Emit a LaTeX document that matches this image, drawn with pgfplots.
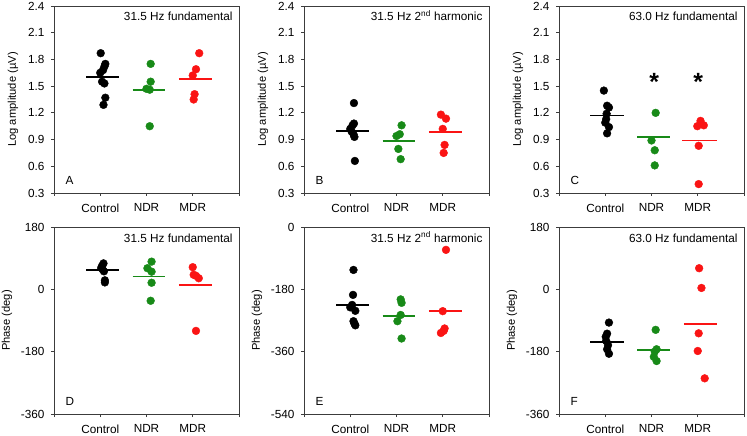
\documentclass[border=0pt]{standalone}
\usepackage{pgfplots}
\pgfplotsset{compat=1.18}
\usepackage{fontspec}
\setmainfont{Liberation Sans}

\definecolor{grpgreen}{RGB}{24,138,24}
\definecolor{grpred}{RGB}{250,20,20}
\definecolor{framegray}{RGB}{60,60,60}

\pgfplotsset{
  panel/.style={
    scale only axis, width=185bp, height=187bp,
    xmin=0, xmax=4, xtick={0,1,2,3,4}, xticklabels={,Control,NDR,MDR,},
    tick align=outside, tick pos=left, major tick length=3bp,
    axis line style={framegray, line width=0.9bp},
    every tick/.style={framegray, line width=0.9bp},
    font=\fontsize{11.8}{14}\selectfont,
    /pgf/number format/assume math mode=true,
    xticklabel style={yshift=-4bp},
    yticklabel style={xshift=-3bp},
    clip=false,
  },
  amp/.style={ymin=0.3, ymax=2.4, ytick={0.3,0.6,...,2.41},
    yticklabel style={/pgf/number format/.cd, fixed, fixed zerofill, precision=1},
    ylabel={Log amplitude (µV)},
    ylabel style={at={([xshift=-41bp]axis description cs:0,0.5)}, anchor=center,
      font=\fontsize{11.2}{13}\selectfont}},
  phase/.style={ylabel={Phase (deg)},
    ylabel style={at={([xshift=-47bp]axis description cs:0,0.5)}, anchor=center,
      font=\fontsize{11.2}{13}\selectfont}},
  ctl/.style={only marks, mark=*, mark size=3.9bp, black, mark options={draw=black, fill=black}},
  ndr/.style={only marks, mark=*, mark size=3.9bp, grpgreen, mark options={draw=grpgreen, fill=grpgreen}},
  mdr/.style={only marks, mark=*, mark size=3.9bp, grpred, mark options={draw=grpred, fill=grpred}},
  mean/.style={no markers, line width=1.8bp},
  star/.style={draw=none, no markers, nodes near coords={\bfseries *},
    nodes near coords style={anchor=center, font=\fontsize{25}{25}\selectfont, black}},
}
\newcommand{\paneltitle}[1]{\node[anchor=base east, font=\fontsize{11.8}{14}\selectfont] at ([xshift=-3bp, yshift=-15bp]rel axis cs:1,1) {#1};}
\newcommand{\panelletter}[1]{\node[anchor=base west, font=\fontsize{11.8}{14}\selectfont] at ([xshift=8bp, yshift=8bp]rel axis cs:0,0) {#1};}

\begin{document}
\begin{tikzpicture}[font=\fontsize{11.8}{14}\selectfont]
\useasboundingbox (0,0) rectangle (747bp,436bp);

% A: 31.5 Hz fundamental, amplitude
\begin{axis}[panel, amp, at={(54bp,243bp)}, anchor=south west]
  \addplot[ctl] coordinates {(1.01,1.87) (1.11,1.75) (1.09,1.72) (1.06,1.68) (1.00,1.65) (1.04,1.55) (1.09,1.53) (1.11,1.37) (1.07,1.29)};
  \addplot[ndr] coordinates {(2.09,1.75) (2.09,1.55) (2.00,1.47) (2.07,1.46) (2.07,1.05)};
  \addplot[mdr] coordinates {(3.14,1.87) (3.07,1.69) (3.00,1.62) (3.04,1.41) (3.02,1.35)};
  \addplot[mean, black] coordinates {(0.70,1.60) (1.41,1.60)};
  \addplot[mean, grpgreen] coordinates {(1.70,1.46) (2.41,1.46)};
  \addplot[mean, grpred] coordinates {(2.70,1.58) (3.41,1.58)};
  \paneltitle{31.5 Hz fundamental}
  \panelletter{A}
\end{axis}

% B: 31.5 Hz 2nd harmonic, amplitude
\begin{axis}[panel, amp, at={(304bp,243bp)}, anchor=south west]
  \addplot[ctl] coordinates {(1.08,1.31) (1.08,1.08) (1.05,1.06) (1.00,1.02) (1.03,0.99) (1.07,0.96) (1.09,0.93) (1.10,0.66)};
  \addplot[ndr] coordinates {(2.11,1.06) (2.07,0.96) (2.00,0.94) (2.04,0.795) (2.09,0.68)};
  \addplot[mdr] coordinates {(2.96,1.18) (3.07,1.135) (3.00,1.02) (3.04,0.84) (3.02,0.75)};
  \addplot[mean, black] coordinates {(0.70,1.00) (1.41,1.00)};
  \addplot[mean, grpgreen] coordinates {(1.70,0.88) (2.41,0.88)};
  \addplot[mean, grpred] coordinates {(2.70,0.985) (3.41,0.985)};
  \paneltitle{31.5 Hz 2\textsuperscript{nd} harmonic}
  \panelletter{B}
\end{axis}

% C: 63.0 Hz fundamental, amplitude
\begin{axis}[panel, amp, at={(559bp,243bp)}, anchor=south west]
  \addplot[ctl] coordinates {(0.97,1.45) (1.04,1.28) (1.08,1.26) (1.03,1.19) (1.02,1.13) (1.00,1.09) (1.08,1.04) (1.04,0.97)};
  \addplot[ndr] coordinates {(2.09,1.20) (2.00,0.89) (2.07,0.78) (2.07,0.61)};
  \addplot[mdr] coordinates {(3.06,1.11) (3.13,1.06) (2.99,1.05) (3.02,0.83) (3.02,0.40)};
  \addplot[mean, black] coordinates {(0.68,1.17) (1.40,1.17)};
  \addplot[mean, grpgreen] coordinates {(1.69,0.93) (2.40,0.93)};
  \addplot[mean, grpred] coordinates {(2.66,0.89) (3.42,0.89)};
  \addplot[star] coordinates {(2.06,1.55) (3.01,1.55)};
  \paneltitle{63.0 Hz fundamental}
  \panelletter{C}
\end{axis}

% D: 31.5 Hz fundamental, phase
\begin{axis}[panel, phase, at={(54bp,22bp)}, anchor=south west,
    ymin=-360, ymax=180, ytick={-360,-180,0,180}]
  \addplot[ctl] coordinates {(1.07,75) (1.04,68) (1.02,62) (1.05,58) (1.08,52) (1.10,26) (1.10,20)};
  \addplot[ndr] coordinates {(2.11,80) (2.02,61) (2.11,51) (2.11,19) (2.09,-33)};
  \addplot[mdr] coordinates {(3.00,64) (3.02,42) (3.07,39) (3.13,32) (3.07,-120)};
  \addplot[mean, black] coordinates {(0.70,56) (1.41,56)};
  \addplot[mean, grpgreen] coordinates {(1.70,37) (2.41,37)};
  \addplot[mean, grpred] coordinates {(2.70,12) (3.41,12)};
  \paneltitle{31.5 Hz fundamental}
  \panelletter{D}
\end{axis}

% E: 31.5 Hz 2nd harmonic, phase
\begin{axis}[panel, phase, at={(304bp,22bp)}, anchor=south west,
    ymin=-540, ymax=0, ytick={-540,-360,-180,0}]
  \addplot[ctl] coordinates {(1.07,-124) (1.06,-196) (1.04,-225) (1.00,-232) (1.11,-242) (1.07,-272) (1.09,-279) (1.11,-284)};
  \addplot[ndr] coordinates {(2.09,-209) (2.11,-219) (2.09,-254) (2.02,-272) (2.11,-322)};
  \addplot[mdr] coordinates {(3.07,-66) (3.00,-243) (3.04,-293) (3.02,-300) (2.96,-306)};
  \addplot[mean, black] coordinates {(0.70,-225) (1.41,-225)};
  \addplot[mean, grpgreen] coordinates {(1.70,-257) (2.41,-257)};
  \addplot[mean, grpred] coordinates {(2.70,-243) (3.41,-243)};
  \paneltitle{31.5 Hz 2\textsuperscript{nd} harmonic}
  \panelletter{E}
\end{axis}

% F: 63.0 Hz fundamental, phase
\begin{axis}[panel, phase, at={(559bp,22bp)}, anchor=south west,
    ymin=-360, ymax=180, ytick={-360,-180,0,180}]
  \addplot[ctl] coordinates {(1.08,-96) (1.04,-128) (1.01,-137) (1.02,-149) (1.06,-161) (1.04,-173) (1.08,-186)};
  \addplot[ndr] coordinates {(2.09,-117) (2.11,-173) (2.07,-180) (2.05,-195) (2.11,-207)};
  \addplot[mdr] coordinates {(3.03,61) (3.08,4) (3.02,-127) (3.00,-178) (3.15,-257)};
  \addplot[mean, black] coordinates {(0.68,-151) (1.40,-151)};
  \addplot[mean, grpgreen] coordinates {(1.69,-175) (2.40,-175)};
  \addplot[mean, grpred] coordinates {(2.70,-99) (3.42,-99)};
  \paneltitle{63.0 Hz fundamental}
  \panelletter{F}
\end{axis}
\end{tikzpicture}
\end{document}
